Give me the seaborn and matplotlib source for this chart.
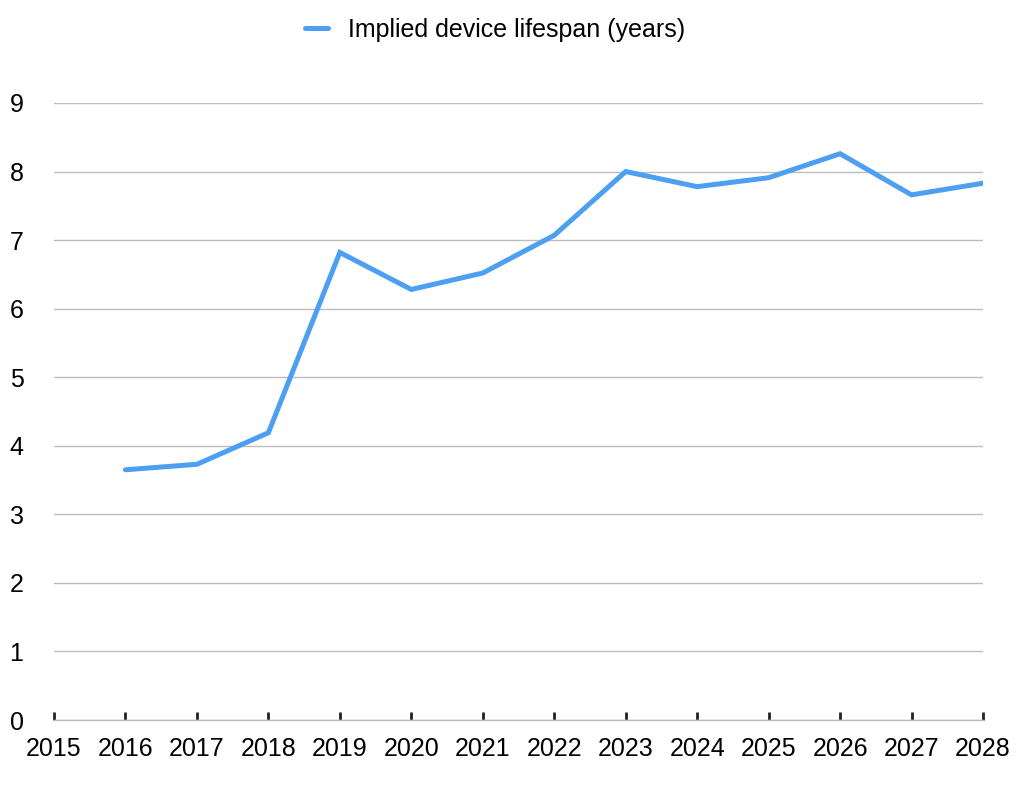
import matplotlib
matplotlib.use("Agg")
import matplotlib.pyplot as plt
import seaborn as sns
import pandas as pd

years = [2016, 2017, 2018, 2019, 2020, 2021, 2022, 2023, 2024, 2025, 2026, 2027, 2028]
lifespan = [3.65, 3.73, 4.19, 6.82, 6.28, 6.52, 7.07, 8.00, 7.78, 7.91, 8.26, 7.66, 7.83]
series_name = "Implied device lifespan (years)"
x_ticks = list(range(2015, 2029))
y_ticks = list(range(0, 10))

df = pd.DataFrame({"Year": years, "Lifespan": lifespan})

sns.set_style("white")
plt.rcParams["font.family"] = ["Liberation Sans", "DejaVu Sans"]
plt.rcParams["text.color"] = "black"
plt.rcParams["xtick.labelcolor"] = "black"
plt.rcParams["ytick.labelcolor"] = "black"

fig = plt.figure(figsize=(10.34, 8.10), dpi=100)
ax = fig.add_axes([54 / 1034, (810 - 720) / 810, (983 - 54) / 1034, (720 - 103) / 810])

sns.lineplot(data=df, x="Year", y="Lifespan", ax=ax, color="#4C9FF1",
             linewidth=3.6, label=series_name, solid_joinstyle="miter")

ax.set_xlim(2015, 2028)
ax.set_ylim(0, 9)
ax.set_xticks(x_ticks)
ax.set_yticks(y_ticks)
ax.set_xlabel("")
ax.set_ylabel("")
ax.grid(axis="y", color="#BDBDBD", linewidth=1)
ax.set_axisbelow(True)
for s in ["top", "right", "left"]:
    ax.spines[s].set_visible(False)
ax.spines["bottom"].set_color("#BDBDBD")
ax.spines["bottom"].set_linewidth(1)
ax.tick_params(axis="x", bottom=True, direction="in", length=6, width=2,
               color="#222222", labelsize=18, pad=12)
ax.tick_params(axis="y", left=False, length=0, labelsize=18, pad=32)
for lab in ax.get_yticklabels():
    lab.set_horizontalalignment("left")

leg = ax.legend(loc="upper center", bbox_to_anchor=(0.475, 1.175), frameon=False,
                fontsize=18, handlelength=0.9, handletextpad=0.8)

fig.savefig("out.png", dpi=100)
